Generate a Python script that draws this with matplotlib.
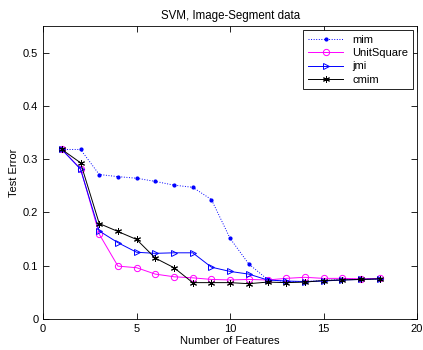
import numpy as np
import matplotlib
matplotlib.use('Agg')
import matplotlib.pyplot as plt

plt.rcParams['font.family'] = ['Liberation Sans', 'DejaVu Sans']

# number of selected features
n_feat = list(range(1, 19))

# test error per method
mim = [0.318, 0.318, 0.271, 0.267, 0.264, 0.258, 0.251, 0.247, 0.224,
       0.151, 0.103, 0.074, 0.070, 0.070, 0.072, 0.074, 0.075, 0.075]
unit_square = [0.318, 0.282, 0.159, 0.099, 0.096, 0.084, 0.079, 0.077, 0.074,
               0.073, 0.074, 0.073, 0.076, 0.078, 0.076, 0.076, 0.075, 0.076]
jmi = [0.318, 0.281, 0.165, 0.143, 0.125, 0.123, 0.124, 0.124, 0.097,
       0.089, 0.084, 0.073, 0.071, 0.070, 0.071, 0.073, 0.074, 0.075]
cmim = [0.318, 0.293, 0.179, 0.164, 0.149, 0.114, 0.096, 0.068, 0.068,
        0.068, 0.066, 0.069, 0.068, 0.069, 0.072, 0.073, 0.074, 0.075]

fig = plt.figure(figsize=(4.23, 3.5), dpi=100)
ax = fig.add_axes([0.102, 0.089, 0.884, 0.837])

ax.plot(n_feat, mim, ':', color='blue', marker='.', markersize=4, lw=0.7, label='mim')
ax.plot(n_feat, unit_square, '-', color='magenta', marker='o', markersize=4.5,
        mfc='none', mew=0.7, lw=0.7, label='UnitSquare')
ax.plot(n_feat, jmi, '-', color='blue', marker='>', markersize=5,
        mfc='none', mew=0.7, lw=0.7, label='jmi')
ax.plot(n_feat, cmim, '-', color='black', marker=(6, 2, 0), markersize=5,
        mew=0.7, lw=0.7, label='cmim')

ax.set_xlim(0, 20)
ax.set_ylim(0, 0.55)
ax.set_xticks([0, 5, 10, 15, 20])
ax.set_yticks([0, 0.1, 0.2, 0.3, 0.4, 0.5])
ax.set_yticklabels(['0', '0.1', '0.2', '0.3', '0.4', '0.5'])
ax.tick_params(direction='in', top=True, right=True, labelsize=8, length=4, width=0.6)
for s in ax.spines.values():
    s.set_linewidth(0.6)

ax.set_xlabel('Number of Features', fontsize=8, labelpad=2)
ax.set_ylabel('Test Error', fontsize=8, labelpad=3)
ax.set_title('SVM, Image-Segment data', fontsize=8.3, pad=5)

leg = ax.legend(loc='upper right', fontsize=8, fancybox=False, edgecolor='black',
                framealpha=1, borderpad=0.4, labelspacing=0.3, handlelength=3.2,
                borderaxespad=0.4)
leg.get_frame().set_linewidth(0.6)

fig.savefig('out.png', dpi=100)
